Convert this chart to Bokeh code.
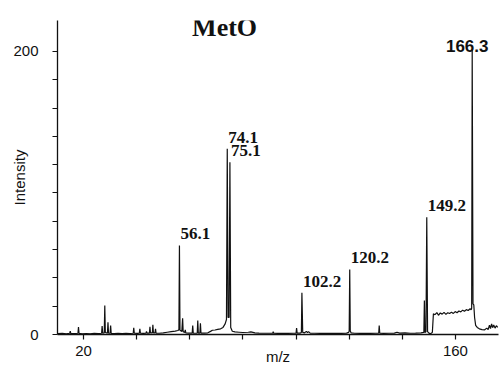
from bokeh.plotting import figure
from bokeh.models import (Range1d, FixedTicker, Label, LabelSet, ColumnDataSource)
from bokeh.embed import file_html
from bokeh.resources import INLINE

# Mass spectrum of MetO: profile trace (m/z, intensity)
mz = [
    10.3, 12.0, 13.5, 14.8, 15.0, 15.2, 16.5, 17.9, 18.1, 18.3, 19.5, 21.0, 22.5, 24.0,
    25.5, 26.8, 27.0, 27.2, 27.8, 28.0, 28.2, 29.0, 29.2, 29.4, 30.0, 30.2, 30.4, 31.5,
    33.0, 34.5, 36.0, 37.5, 38.7, 38.9, 39.1, 40.2, 41.0, 41.2, 41.4, 42.5, 43.5, 43.7,
    43.9, 44.8, 45.0, 45.2, 45.9, 46.1, 46.3, 46.9, 47.1, 47.3, 48.5, 50.0, 51.5, 53.0,
    54.5, 55.5, 55.9, 56.1, 56.3, 57.0, 57.3, 57.5, 58.1, 58.3, 58.5, 59.5, 60.9, 61.1,
    61.3, 62.0, 62.8, 63.0, 63.2, 63.8, 64.0, 64.2, 65.5, 66.8, 67.8, 68.5, 69.5, 70.5,
    71.6, 72.5, 73.3, 73.8, 74.1, 74.4, 74.8, 75.1, 75.4, 76.0, 77.0, 78.5, 80.0, 82.0,
    83.0, 84.5, 86.0, 88.0, 90.0, 91.2, 91.4, 91.6, 93.0, 95.0, 97.0, 99.0, 100.0, 100.2,
    100.4, 101.5, 102.0, 102.2, 102.5, 103.2, 103.9, 104.3, 104.7, 105.3, 107.0, 109.0,
    111.0, 113.0, 115.0, 117.0, 119.0, 119.8, 120.0, 120.2, 120.4, 120.7, 122.0, 124.0,
    126.0, 128.0, 130.0, 131.1, 131.3, 131.5, 133.0, 135.0, 137.0, 138.0, 139.0, 141.0,
    143.0, 145.0, 147.0, 148.1, 148.3, 148.5, 148.9, 149.2, 149.5, 150.0, 150.6, 151.3,
    151.7, 152.3, 153.0, 153.6, 154.3, 155.0, 155.7, 156.4, 157.1, 157.8, 158.5, 159.2,
    159.9, 160.6, 161.3, 162.0, 162.7, 163.4, 164.1, 164.8, 165.5, 165.9, 166.1, 166.3,
    166.6, 166.9, 167.2, 167.6, 168.2, 169.0, 170.0, 171.0, 171.8, 172.3, 172.8, 173.2,
    173.6, 174.0, 174.4, 174.9, 175.4, 175.9,
]
intensity = [
    0.6, 0.8, 0.5, 0.9, 2.3, 0.7, 0.6, 0.9, 5.2, 0.8, 0.5, 0.7, 0.5, 0.8,
    0.6, 0.9, 6.0, 1.0, 1.2, 20.5, 1.4, 1.0, 8.7, 1.0, 0.9, 6.4, 0.8, 0.7,
    0.9, 0.6, 0.8, 0.7, 0.9, 4.7, 1.0, 0.8, 1.0, 4.0, 1.0, 0.8, 1.0, 2.2,
    1.0, 1.0, 5.4, 1.1, 1.1, 6.8, 1.2, 1.1, 4.0, 1.0, 0.9, 1.2, 1.6, 2.0,
    2.4, 2.8, 3.4, 62.9, 3.0, 2.2, 11.5, 2.0, 1.5, 3.3, 1.2, 1.0, 1.0, 6.4,
    1.0, 0.9, 1.0, 9.9, 1.0, 1.0, 8.0, 1.0, 1.0, 1.2, 2.2, 3.0, 3.2, 3.6,
    4.0, 5.0, 7.5, 10.6, 131.2, 12.0, 12.0, 121.8, 5.0, 2.3, 1.8, 1.6, 1.4, 1.6,
    1.8, 1.2, 1.0, 0.9, 0.9, 0.9, 2.0, 0.9, 0.8, 0.9, 0.8, 0.9, 1.0, 4.5,
    1.0, 1.0, 1.4, 29.5, 1.5, 1.2, 2.2, 1.3, 2.0, 1.0, 0.9, 0.8,
    0.9, 0.8, 0.9, 0.8, 1.0, 1.5, 2.5, 46.0, 2.5, 1.2, 0.9, 0.8,
    0.9, 0.8, 0.9, 0.9, 6.4, 0.9, 0.8, 0.9, 1.0, 1.6, 1.0, 1.1,
    0.9, 1.0, 1.2, 1.5, 24.0, 1.5, 2.0, 82.9, 2.0, 1.0, 0.5, 1.5,
    14.6, 14.0, 15.5, 13.6, 15.2, 14.4, 15.6, 14.2, 15.4, 14.8, 15.8, 14.9,
    16.2, 15.4, 16.6, 16.0, 17.2, 16.4, 17.6, 17.0, 18.2, 17.5, 18.5, 201.0,
    21.7, 21.0, 12.0, 6.5, 5.0, 4.0, 3.5, 3.3, 4.5, 3.5, 6.5, 4.2,
    7.5, 4.8, 6.8, 4.5, 6.2, 5.0,
]

# Labelled peaks
peak_mz = [56.1, 74.1, 75.1, 102.2, 120.2, 149.2]
peak_height = [62.9, 131.2, 121.8, 29.5, 46.0, 82.9]
base_peak_mz = 166.3
base_peak_height = 201.0

x_ticks = [20, 40, 60, 80, 100, 120, 140, 160]
x_tick_labels = ["20", "", "", "", "", "", "", "160"]
y_ticks = [0, 20, 40, 60, 80, 100, 120, 140, 160, 180, 200]
y_tick_labels = ["0", "", "", "", "", "", "", "", "", "", "200"]

SANS = "Arial"
SERIF = "Times"
INK = "#111111"

p = figure(width=504, height=373, output_backend="svg", toolbar_location=None,
           x_range=Range1d(10.2, 176.2), y_range=Range1d(0, 221.9),
           min_border_left=57, min_border_right=6, min_border_top=20,
           min_border_bottom=39)
p.outline_line_color = None
p.grid.visible = False
p.background_fill_color = "white"
p.border_fill_color = "white"

for ax, ticks, labels, standoff in ((p.xaxis[0], x_ticks, x_tick_labels, 6),
                                    (p.yaxis[0], y_ticks, y_tick_labels, 14)):
    ax.ticker = FixedTicker(ticks=ticks)
    ax.major_label_overrides = {t: l for t, l in zip(ticks, labels)}
    ax.minor_tick_line_color = None
    ax.major_tick_in = 0
    ax.major_tick_out = 5
    ax.major_tick_line_color = INK
    ax.major_tick_line_width = 1.2
    ax.axis_line_color = INK
    ax.axis_line_width = 1.3
    ax.major_label_text_font = SANS
    ax.major_label_text_font_size = "15px"
    ax.major_label_text_color = INK
    ax.major_label_standoff = standoff
    ax.axis_label_text_font = SANS
    ax.axis_label_text_font_size = "15px"
    ax.axis_label_text_font_style = "normal"
    ax.axis_label_text_color = INK

p.xaxis[0].axis_label = "m/z"
p.xaxis[0].axis_label_standoff = -11
p.yaxis[0].axis_label = "Intensity"
p.yaxis[0].axis_label_standoff = -18

p.line(mz, intensity, line_color=INK, line_width=1.2)

labels_src = ColumnDataSource(dict(x=peak_mz, y=peak_height,
                                   t=[f"{m:.1f}" for m in peak_mz]))
p.add_layout(LabelSet(x="x", y="y", text="t", source=labels_src,
                      x_offset=1, y_offset=6, text_align="left",
                      text_baseline="alphabetic", text_font=SANS,
                      text_font_style="bold", text_font_size="17px",
                      text_color=INK))
p.add_layout(Label(x=base_peak_mz, y=base_peak_height, text=f"{base_peak_mz:.1f}",
                   x_offset=-5, y_offset=4, text_align="center",
                   text_baseline="alphabetic", text_font=SANS,
                   text_font_style="bold", text_font_size="17px", text_color=INK))

# Title
p.add_layout(Label(x=73.1, y=217.0, text="MetO", text_align="center",
                   text_baseline="alphabetic", text_font=SERIF,
                   text_font_style="bold", text_font_size="26px", text_color=INK))

open("out.html", "w").write(file_html(p, INLINE))
